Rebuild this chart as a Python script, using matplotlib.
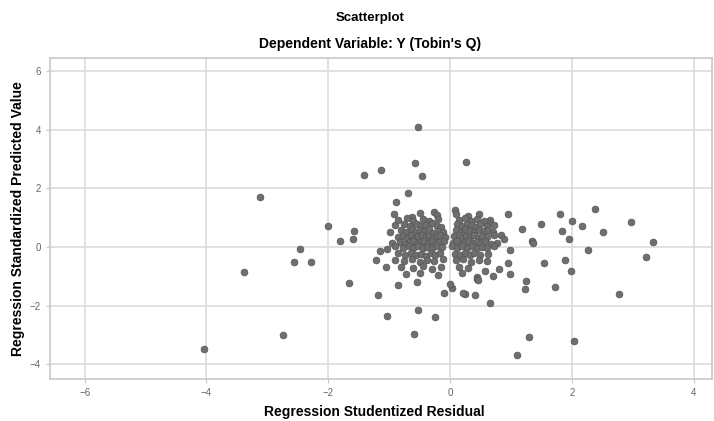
import matplotlib
matplotlib.use("Agg")
import matplotlib.pyplot as plt

plt.rcParams['font.family'] = ['Liberation Sans', 'DejaVu Sans']

# points: studentized residual (x), standardized predicted (y)
outliers = [
    (-4.04, -3.49), (-3.12, 1.72), (-3.38, -0.85), (-2.75, -3.01), (-2.47, -0.08),
    (-2.56, -0.50), (-2.28, -0.50), (-2.01, 0.72), (-1.81, 0.19), (-1.66, -1.22),
    (-1.58, 0.54), (-1.60, 0.27), (-1.41, 2.46), (-1.14, 2.63), (-0.53, 4.10),
    (-0.57, 2.87), (-0.46, 2.43), (0.26, 2.90), (-0.69, 1.83), (-1.18, -1.65),
    (-1.04, -2.35), (-0.59, -2.97), (-0.53, -2.15), (-0.25, -2.40), (1.10, -3.69),
    (1.30, -3.07), (2.04, -3.20), (2.77, -1.60), (3.33, 0.16), (3.22, -0.35),
    (2.98, 0.84), (2.38, 1.30), (2.51, 0.52), (2.27, -0.09), (2.17, 0.72),
    (2.01, 0.90), (1.81, 1.14), (1.84, 0.56), (1.95, 0.28), (1.89, -0.43),
    (1.99, -0.82), (1.72, -1.37), (1.54, -0.56), (1.50, 0.80), (1.18, 0.60),
    (1.34, 0.20), (1.37, 0.15), (1.25, -1.15), (1.23, -1.45), (0.96, 1.14),
    (0.99, -0.09), (0.95, -0.55), (0.99, -0.93), (0.81, -0.75), (0.71, -0.99),
    (0.57, -0.82), (0.66, -1.90), (0.41, -1.65), (0.25, -1.62), (0.22, -1.58),
    (0.03, -1.41), (0.44, -1.01), (0.44, -1.09), (0.19, -0.88), (0.84, 0.41),
    (0.88, 0.26), (0.66, 0.92), (0.63, 0.81), (0.48, 1.12), (0.67, 0.09),
    (-0.10, -1.58), (0.46, -1.13), (-0.85, -1.30), (-0.89, 1.53), (-0.92, 1.14),
    (-0.90, 0.75), (-0.99, 0.52), (-0.85, 0.35), (-1.15, -0.14), (-1.04, -0.07),
    (-1.22, -0.44), (-1.05, -0.69),
]

cluster = [
    (-0.49, 1.15), (-0.27, 1.21), (-0.21, 1.09), (0.08, 1.26), (0.10, 1.13), (-0.62, 1.02), (0.30, 1.05),
    (-0.85, 0.93), (-0.70, 0.98), (-0.60, 0.88), (-0.45, 0.95), (-0.35, 0.90), (-0.20, 0.97),
    (0.15, 0.92), (0.25, 0.99), (0.35, 0.88), (0.45, 0.94), (0.55, 0.90),
    (-0.75, 0.78), (-0.65, 0.72), (-0.55, 0.80), (-0.48, 0.70), (-0.40, 0.76), (-0.30, 0.81),
    (-0.22, 0.73), (-0.15, 0.68), (0.12, 0.77), (0.20, 0.71), (0.28, 0.80), (0.36, 0.74),
    (0.42, 0.69), (0.50, 0.78), (0.60, 0.72), (0.72, 0.76),
    (-0.80, 0.58), (-0.72, 0.52), (-0.62, 0.60), (-0.56, 0.50), (-0.50, 0.57), (-0.42, 0.53),
    (-0.35, 0.61), (-0.28, 0.49), (-0.20, 0.56), (-0.12, 0.52), (0.10, 0.58), (0.18, 0.51),
    (0.25, 0.60), (0.32, 0.54), (0.40, 0.50), (0.47, 0.59), (0.55, 0.53), (0.62, 0.57), (0.70, 0.50),
    (-0.78, 0.38), (-0.70, 0.32), (-0.64, 0.40), (-0.58, 0.30), (-0.52, 0.36), (-0.46, 0.42),
    (-0.40, 0.33), (-0.34, 0.39), (-0.28, 0.30), (-0.22, 0.37), (-0.16, 0.41), (-0.08, 0.33),
    (0.06, 0.36), (0.14, 0.40), (0.20, 0.31), (0.26, 0.38), (0.33, 0.34), (0.40, 0.42),
    (0.46, 0.30), (0.52, 0.37), (0.60, 0.33), (0.72, 0.40),
    (-0.95, 0.12), (-0.82, 0.18), (-0.74, 0.10), (-0.66, 0.16), (-0.60, 0.21), (-0.54, 0.11),
    (-0.48, 0.17), (-0.42, 0.22), (-0.36, 0.13), (-0.30, 0.19), (-0.24, 0.10), (-0.18, 0.16),
    (-0.10, 0.20), (0.05, 0.14), (0.12, 0.20), (0.18, 0.10), (0.24, 0.17), (0.30, 0.22),
    (0.37, 0.12), (0.44, 0.18), (0.50, 0.11), (0.58, 0.19), (0.77, 0.14),
    (-0.90, 0.02), (-0.78, -0.03), (-0.68, 0.04), (-0.60, -0.02), (-0.52, 0.03), (-0.45, -0.04),
    (-0.38, 0.01), (-0.30, -0.03), (-0.22, 0.04), (-0.14, -0.01), (0.04, 0.02), (0.12, -0.04),
    (0.20, 0.03), (0.28, -0.02), (0.36, 0.04), (0.44, -0.03), (0.52, 0.01), (0.60, -0.04), (0.72, 0.02),
    (-0.86, -0.22), (-0.74, -0.28), (-0.64, -0.20), (-0.56, -0.27), (-0.48, -0.23), (-0.40, -0.30),
    (-0.32, -0.21), (-0.24, -0.26), (-0.16, -0.19), (0.08, -0.24), (0.16, -0.29), (0.24, -0.21),
    (0.32, -0.27), (0.40, -0.20), (0.50, -0.28), (0.62, -0.23),
    (-0.90, -0.43), (-0.76, -0.48), (-0.62, -0.42), (-0.50, -0.50), (-0.38, -0.44), (-0.26, -0.49),
    (-0.12, -0.41), (0.10, -0.46), (0.22, -0.42), (0.34, -0.50), (0.48, -0.44), (0.60, -0.48),
    (-0.80, -0.68), (-0.60, -0.73), (-0.45, -0.66), (-0.30, -0.74), (-0.15, -0.70), (0.14, -0.67), (0.30, -0.72),
    (-0.72, -0.92), (-0.50, -0.88), (-0.20, -0.95),
    (-0.55, -1.18), (0.00, -1.25),
]

residual = [p[0] for p in outliers + cluster]
predicted = [p[1] for p in outliers + cluster]

x_ticks = [-6, -4, -2, 0, 2, 4]
y_ticks = [-4, -2, 0, 2, 4, 6]

fig = plt.figure(figsize=(7.14, 4.21), dpi=100)
ax = fig.add_axes([0.070, 0.0998, 0.927, 0.762])

ax.scatter(residual, predicted, s=24, facecolor='#6e6e6e', edgecolor='#555555',
           linewidth=0.5, zorder=3)

ax.set_xlim(-6.57, 4.30)
ax.set_ylim(-4.51, 6.45)
ax.set_xticks(x_ticks)
ax.set_yticks(y_ticks)
ax.grid(True, color='#dcdcdc', linewidth=1.2, zorder=0)
ax.set_axisbelow(True)

for s in ax.spines.values():
    s.set_color('#c8c8c8')
    s.set_linewidth(1.2)
ax.tick_params(colors='#c8c8c8', labelcolor='#666666', labelsize=7, length=3, width=0.8)

ax.set_xlabel("Regression Studentized Residual", fontsize=10, fontweight='bold')
ax.xaxis.set_label_coords(0.49, -0.082)
ax.set_ylabel("Regression Standardized Predicted Value", fontsize=10, fontweight='bold')
ax.yaxis.set_label_coords(-0.038, 0.50)

fig.text(0.518, 0.957, "Scatterplot", ha='center', va='center', fontsize=9.5, fontweight='bold')
fig.text(0.518, 0.895, "Dependent Variable: Y (Tobin's Q)", ha='center', va='center',
         fontsize=10, fontweight='bold')

fig.savefig("out.png", dpi=100)
